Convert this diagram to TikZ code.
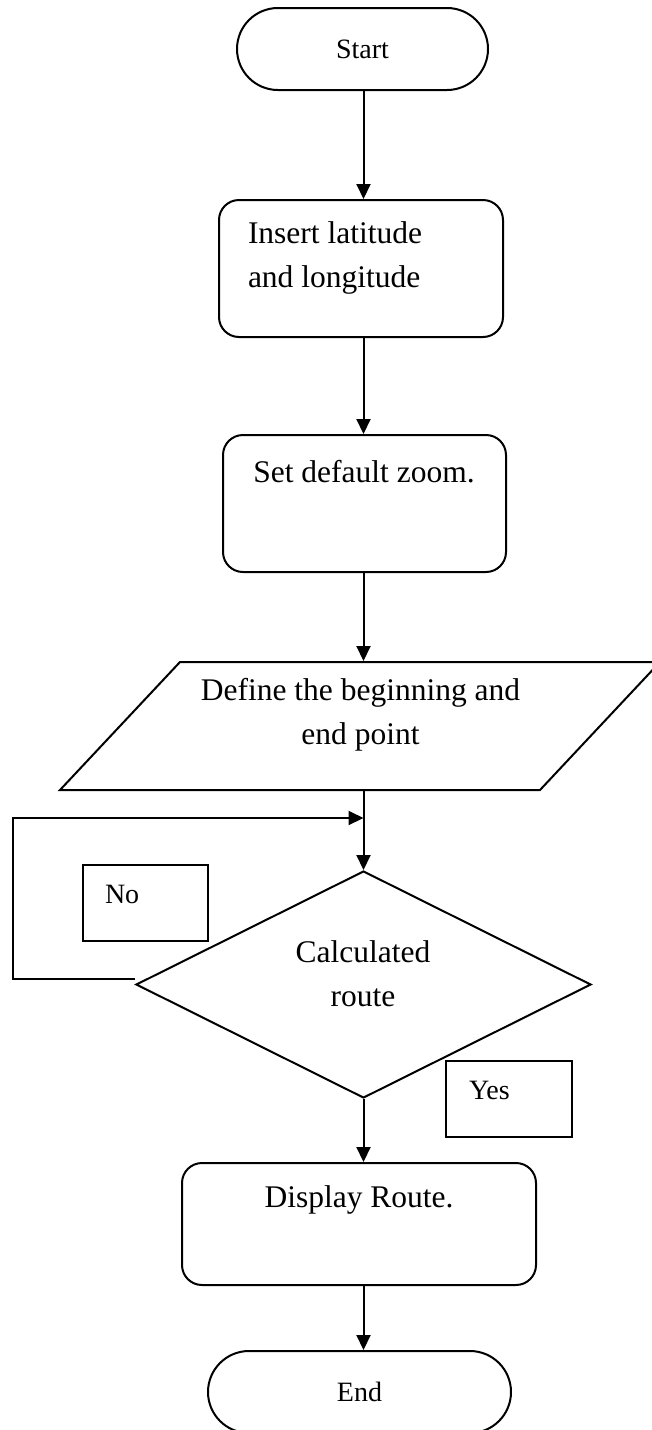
\documentclass[tikz,border=0pt]{standalone}
\usepackage{fontspec}
\setmainfont{Liberation Serif}
\usetikzlibrary{shapes.geometric,arrows.meta}
\begin{document}
\begin{tikzpicture}[x=1pt,y=-1pt,
  line width=2pt,
  arr/.style={-{Triangle[length=15pt,width=14pt]}},
  term/.style={draw, rounded corners=41pt, minimum width=251pt, minimum height=82pt, inner sep=0pt},
  proc/.style={draw, rounded corners=20pt, inner sep=0pt},
  lbl/.style={draw, line width=1.6pt, inner sep=0pt},
  big/.style={font=\fontsize{31.5}{44}\selectfont, align=center, inner sep=0pt},
  small/.style={font=\fontsize{28}{34}\selectfont, inner sep=0pt}]
\path[fill=white, use as bounding box] (0,0) rectangle (651,1430);

% shapes
\node[term, small] (start) at (362.5,49) {Start};
\node[proc, minimum width=284pt, minimum height=137pt] (insert) at (361,268.5) {};
\node[big, anchor=west, align=left] (inserttext) at (247,257.5) {Insert latitude\\and longitude};

\node[proc, minimum width=283pt, minimum height=137pt] (zoom) at (364.5,503.5) {};
\node[big] (zoomtext) at (364,472) {Set default zoom.};

\node[minimum width=480pt, minimum height=128pt, inner sep=0pt] (define) at (360,726) {};
\draw (180,662) -- (660,662) -- (540,790) -- (60,790) -- cycle;
\node[big] (definetext) at (360.5,714.5) {Define the beginning and\\end point};

\node[draw, diamond, aspect=2, minimum width=455pt, minimum height=227pt, inner sep=0pt] (calc) at (363.5,984.5) {};
\node[big] (calctext) at (363,974) {Calculated\\route};

\node[lbl, minimum width=125pt, minimum height=76pt] (no) at (145.5,903) {};
\node[small, anchor=west] (notext) at (104,894) {No};

\node[lbl, minimum width=126pt, minimum height=76pt] (yes) at (509,1099) {};
\node[small, anchor=west] (yestext) at (468,1090) {Yes};

\node[proc, minimum width=354pt, minimum height=122pt] (display) at (359,1224) {};
\node[big] (displaytext) at (359,1200) {Display Route.};

\node[term, small, minimum width=303pt] (end) at (359.5,1392) {End};

% connectors
\draw[arr] (start.south -| calc.north) -- (insert.north -| calc.north);
\draw[arr] (insert.south -| calc.north) -- (zoom.north -| calc.north);
\draw[arr] (zoom.south -| calc.north) -- (define.north -| calc.north);
\draw[arr] (define.south -| calc.north) -- (calc.north);
\coordinate (loopleft) at (13,818);
\coordinate (loopend) at (363.5,818);
\draw[arr] ([yshift=5.5pt]calc.west) -| (loopleft) -- (loopend);
\draw[arr] (calc.south) -- (display.north -| calc.south);
\draw[arr] (display.south -| calc.south) -- (end.north -| calc.south);
\end{tikzpicture}
\end{document}
